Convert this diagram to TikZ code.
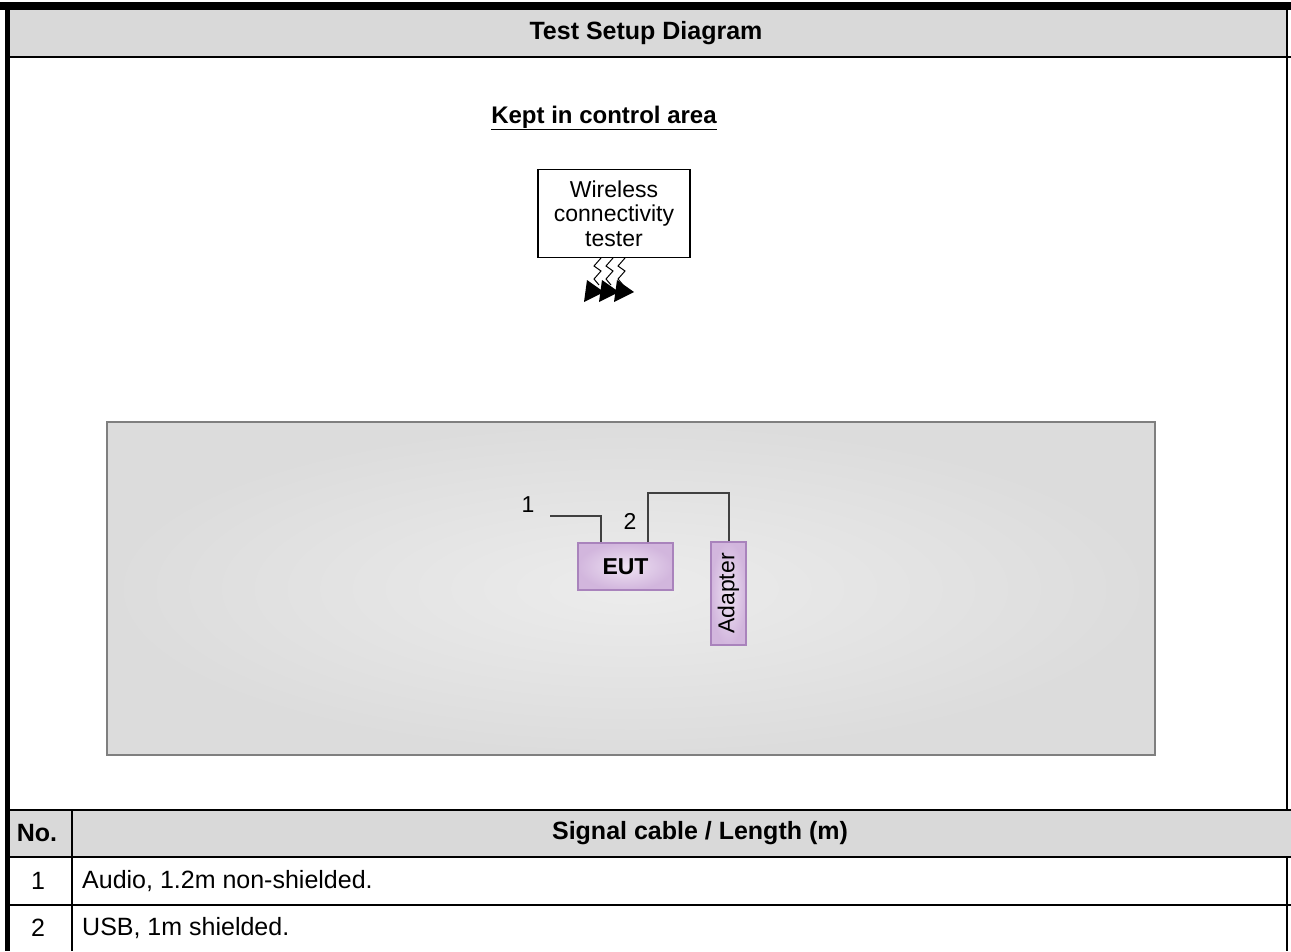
\documentclass[tikz,border=0pt]{standalone}
\usepackage{fontspec}
\setmainfont{Liberation Sans}
\definecolor{headgray}{HTML}{D9D9D9}
\definecolor{cablegray}{HTML}{404040}
\definecolor{boxedge}{HTML}{7F7F7F}
\definecolor{boxin}{HTML}{ECECEC}
\definecolor{boxout}{HTML}{DCDCDC}
\definecolor{purpin}{HTML}{EEE2F3}
\definecolor{purpout}{HTML}{D2B6DD}
\definecolor{purpedge}{HTML}{A983BC}
\begin{document}
\begin{tikzpicture}[x=1pt,y=-1pt,
  txt/.style={inner sep=0pt,font=\fontsize{25}{28}\selectfont},
  btxt/.style={inner sep=0pt,font=\fontsize{25}{28}\selectfont\bfseries},
  smalltxt/.style={inner sep=0pt,font=\fontsize{23}{24.5}\selectfont},
  rule/.style={line width=2pt,black},
  cable/.style={draw=cablegray,line width=2pt},
  purpbox/.style={draw=purpedge,line width=1.5pt,inner color=purpin,outer color=purpout}]
\useasboundingbox (0,0) rectangle (1291,951);
% header
\fill[headgray] (9,9) rectangle (1287,56);
\fill[black] (0,2) rectangle (1291,9.5);
\fill[black] (5,2) rectangle (9.5,951);
\draw[line width=2pt] (1287,2) -- (1287,951);
\draw[rule] (9,57) -- (1291,57);
\node[btxt] (title) at (646,33) {Test Setup Diagram};
% control area
\node[font=\fontsize{24}{28}\selectfont\bfseries,inner sep=0pt] (kept) at (604,118) {\underline{Kept in control area}};
\node[draw,line width=1.5pt,minimum width=152pt,minimum height=88pt,align=center,smalltxt] (tester) at (614,213.5) {Wireless\\connectivity\\tester};
\foreach \x in {598,610,622}{
  \draw[line width=1pt] (\x+3,258) -- (\x-4,266) -- (\x+3,271) -- (\x-4,279) -- (\x+1,285);
}
\foreach \x in {587,602,617}{
  \fill (\x,280) -- (\x-3,302) -- (\x+17,292) -- cycle;
}
% test area
\shade[inner color=boxin,outer color=boxout] (107,422) rectangle (1155,755);
\draw[boxedge,line width=2.5pt] (107,422) rectangle (1155,755);
\node[purpbox,minimum width=95pt,minimum height=47pt,inner sep=0pt] (eut) at (625.5,566.5) {};
\node[font=\fontsize{23}{25}\selectfont\bfseries,inner sep=0pt] (euttxt) at (eut.center) {EUT};
\node[purpbox,minimum width=35pt,minimum height=103pt,inner sep=0pt] (adapter) at (728.5,593.5) {};
\node[smalltxt,rotate=90] (adtxt) at (adapter.center) {Adapter};
\coordinate (c1) at (550,516);
\draw[cable] (c1) -| ([xshift=24pt]eut.north west);
\draw[cable] ([xshift=71pt]eut.north west) -- ++(0,-49) -| (adapter.north);
\node[smalltxt] (l1) at (528,505) {1};
\node[smalltxt] (l2) at (630,521) {2};
% table
\fill[headgray] (9.5,811) rectangle (1291,856);
\draw[rule] (9,810) -- (1291,810);
\draw[rule] (9,857) -- (1291,857);
\draw[rule] (9,905) -- (1291,905);
\draw[line width=1.2pt] (72,810) -- (72,951);
\node[btxt] (no) at (37,833) {No.};
\node[btxt] (sig) at (700,833) {Signal cable / Length (m)};
\node[txt] (n1) at (38,881) {1};
\node[txt] (n2) at (38,928) {2};
\node[txt,anchor=west] (t1) at (82,881) {Audio, 1.2m non-shielded.};
\node[txt,anchor=west] (t2) at (82,928) {USB, 1m shielded.};
\end{tikzpicture}
\end{document}
